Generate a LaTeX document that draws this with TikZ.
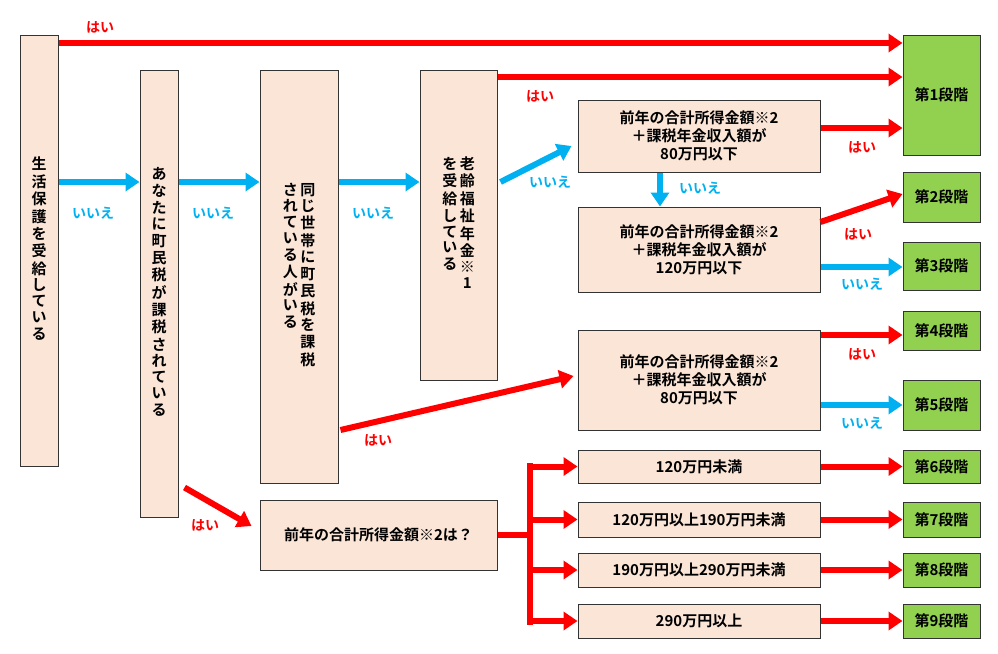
\documentclass[tikz,border=0pt]{standalone}
\usepackage{fontspec}
\setmainfont{Noto Sans CJK JP}[BoldFont={* Bold}]
\usetikzlibrary{arrows.meta,calc}
\definecolor{pk}{HTML}{FBE5D6}
\definecolor{gr}{HTML}{92D050}
\definecolor{rd}{HTML}{FF0000}
\definecolor{bl}{HTML}{00B0F0}
\newcommand{\vc}[1]{\begin{tabular}[t]{@{}c@{}}#1\end{tabular}}
\begin{document}
\begin{tikzpicture}[x=1pt,y=-1pt,
  pbox/.style={draw=black!80,line width=1pt,fill=pk,font=\fontsize{15}{18}\selectfont\bfseries,align=center,inner sep=0pt},
  gbox/.style={draw=black!80,line width=1pt,fill=gr,font=\fontsize{15}{18}\selectfont\bfseries,inner sep=0pt,minimum width=77pt},
  ra/.style={draw=rd,line width=6pt,-{Triangle[length=14pt,width=18pt]}},
  ba/.style={draw=bl,line width=6pt,-{Triangle[length=14pt,width=18pt]}},
  yl/.style={text=rd,font=\fontsize{14}{16}\selectfont\bfseries},
  nl/.style={text=bl,font=\fontsize{14}{16}\selectfont\bfseries}]
\useasboundingbox (0,0) rectangle (998,653);
\renewcommand{\arraystretch}{0.88}
% vertical boxes
\node[pbox,minimum width=38pt,minimum height=431pt] (A) at (39,250.5) {\vc{生\\活\\保\\護\\を\\受\\給\\し\\て\\い\\る}};
\node[pbox,minimum width=38pt,minimum height=447pt] (B) at (159,293.5) {\vc{あ\\な\\た\\に\\町\\民\\税\\が\\課\\税\\さ\\れ\\て\\い\\る}};
\node[pbox,minimum width=78pt,minimum height=413pt] (C) at (299,276.5) {\vc{さ\\れ\\て\\い\\る\\人\\が\\い\\る}\,\vc{同\\じ\\世\\帯\\に\\町\\民\\税\\を\\課\\税}};
\node[pbox,minimum width=77pt,minimum height=310pt] (D) at (458.5,225) {\vc{を\\受\\給\\し\\て\\い\\る}\,\vc{老\\齢\\福\\祉\\年\\金\\※\\1}};
% condition boxes
\node[pbox,minimum width=242pt,minimum height=72pt] (E1) at (699,136) {前年の合計所得金額※2\\＋課税年金収入額が\\80万円以下};
\node[pbox,minimum width=242pt,minimum height=85pt] (E2) at (699,249.5) {前年の合計所得金額※2\\＋課税年金収入額が\\120万円以下};
\node[pbox,minimum width=242pt,minimum height=100pt] (E3) at (699,380) {前年の合計所得金額※2\\＋課税年金収入額が\\80万円以下};
\node[pbox,minimum width=237pt,minimum height=70pt] (F) at (378.5,535) {前年の合計所得金額※2は？};
\node[pbox,minimum width=242pt,minimum height=33pt] (G1) at (699,466.5) {120万円未満};
\node[pbox,minimum width=242pt,minimum height=35pt] (G2) at (699,519.5) {120万円以上190万円未満};
\node[pbox,minimum width=242pt,minimum height=34pt] (G3) at (699,570) {190万円以上290万円未満};
\node[pbox,minimum width=242pt,minimum height=34pt] (G4) at (699,621) {290万円以上};
% stages
\node[gbox,minimum height=120pt] (S1) at (941.5,95) {第1段階};
\node[gbox,minimum height=50pt] (S2) at (941.5,197) {第2段階};
\node[gbox,minimum height=48pt] (S3) at (941.5,266) {第3段階};
\node[gbox,minimum height=39pt] (S4) at (941.5,330.5) {第4段階};
\node[gbox,minimum height=50pt] (S5) at (941.5,405) {第5段階};
\node[gbox,minimum height=33pt] (S6) at (941.5,466.5) {第6段階};
\node[gbox,minimum height=35pt] (S7) at (941.5,519.5) {第7段階};
\node[gbox,minimum height=34pt] (S8) at (941.5,570) {第8段階};
\node[gbox,minimum height=34pt] (S9) at (941.5,621) {第9段階};
% arrows
\draw[ra] (A.east|-0,43) -- (S1.west|-0,43);
\draw[ra] (D.east|-0,77) -- (S1.west|-0,77);
\draw[ba] (A.east|-0,182) -- (B.west|-0,182);
\draw[ba] (B.east|-0,182) -- (C.west|-0,182);
\draw[ba] (C.east|-0,182) -- (D.west|-0,182);
\draw[ba] (D.east|-0,182) ++(3,0) -- ($(E1.west)+(-6,10)$);
\draw[ba] (E1.south-|660,0) -- (E2.north-|660,0);
\draw[ra] (E1.east|-0,128) -- (S1.west|-0,128);
\draw[ra] (E2.east|-0,222) -- (S2.west|-0,194);
\draw[ba] (E2.east|-0,267) -- (S3.west|-0,267);
\draw[ra] (E3.east|-0,335) -- (S4.west|-0,335);
\draw[ba] (E3.east|-0,405) -- (S5.west|-0,405);
\draw[ra] (C.east|-0,430) ++(2,0) -- ($(E3.west)+(-4,-4)$);
\draw[ra] ($(B.south east)+(6,-30)$) -- ($(F.west)+(-8,-9)$);
\coordinate (T) at (530,535);
\draw[draw=rd,line width=6pt] (F.east) -- (T);
\draw[draw=rd,line width=6pt] (530,463) -- (530,625);
\foreach \g in {G1,G2,G3,G4} \draw[ra] (T|-\g) -- (\g.west);
\foreach \g/\s in {G1/S6,G2/S7,G3/S8,G4/S9} \draw[ra] (\g.east) -- (\s.west);
% labels
\node[yl] at (100,27) {はい};
\node[yl] at (540,96) {はい};
\node[yl] at (862,147) {はい};
\node[yl] at (858,234) {はい};
\node[yl] at (862,354) {はい};
\node[yl] at (378,440) {はい};
\node[yl] at (205,525) {はい};
\node[nl] at (93,213) {いいえ};
\node[nl] at (213,213) {いいえ};
\node[nl] at (373,213) {いいえ};
\node[nl] at (550,182) {いいえ};
\node[nl] at (700,188) {いいえ};
\node[nl] at (862,284) {いいえ};
\node[nl] at (862,423) {いいえ};
\end{tikzpicture}
\end{document}
